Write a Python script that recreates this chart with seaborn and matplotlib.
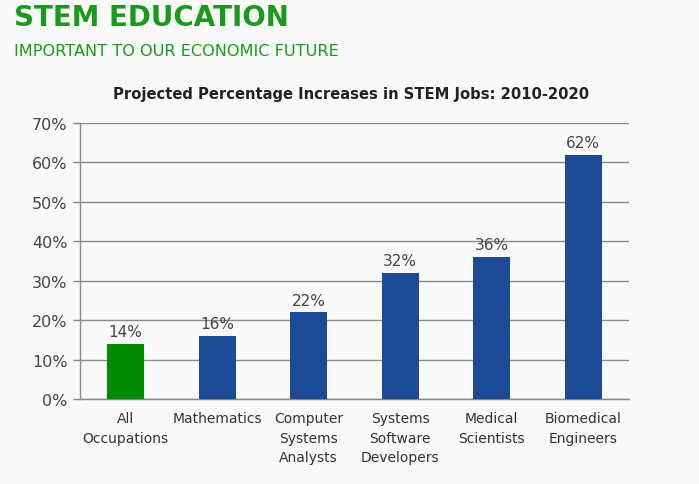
import matplotlib
matplotlib.use('Agg')
import matplotlib.pyplot as plt
import seaborn as sns
import pandas as pd

# chart values
categories = ["All\nOccupations", "Mathematics", "Computer\nSystems\nAnalysts",
              "Systems\nSoftware\nDevelopers", "Medical\nScientists", "Biomedical\nEngineers"]
increases = [14, 16, 22, 32, 36, 62]
bar_colors = ["#008a00", "#1c4a94", "#1c4a94", "#1c4a94", "#1c4a94", "#1c4a94"]
y_ticks = [0, 10, 20, 30, 40, 50, 60, 70]

df = pd.DataFrame({"category": categories, "pct": increases})

sns.set_style("white")
plt.rcParams['font.family'] = ['DejaVu Sans']

fig = plt.figure(figsize=(6.99, 4.85), dpi=100)
fig.patch.set_facecolor("#f9f9f9")
ax = fig.add_axes([80 / 699, 1 - 400 / 485, 549 / 699, 276 / 485])
ax.set_facecolor("#f9f9f9")

sns.barplot(data=df, x="category", y="pct", hue="category", palette=bar_colors,
            legend=False, width=0.4, saturation=1, linewidth=0, ax=ax, zorder=3)

ax.set_ylim(0, 70)
ax.set_xlim(-0.5, len(categories) - 0.5)
ax.set_yticks(y_ticks)
ax.set_yticklabels([f"{v}%" for v in y_ticks], fontsize=11.5, color="#444444")
ax.yaxis.grid(True, color="#8a8a8a", linewidth=1, zorder=0)
ax.set_axisbelow(True)
ax.set_xlabel("")
ax.set_ylabel("")

# category labels between boundary ticks
ax.set_xticks(range(len(categories)))
ax.set_xticklabels(categories, fontsize=10, color="#333333", linespacing=1.5)
ax.tick_params(axis="x", length=0, pad=9)
ax.set_xticks([i - 0.5 for i in range(len(categories) + 1)], minor=True)
ax.tick_params(axis="x", which="minor", length=5, color="#888888", width=1)
ax.tick_params(axis="y", length=5, color="#888888", width=1, left=True, pad=4)

for side in ["top", "right"]:
    ax.spines[side].set_visible(False)
for side in ["left", "bottom"]:
    ax.spines[side].set_color("#888888")
    ax.spines[side].set_linewidth(1)

for i, v in enumerate(increases):
    ax.text(i, v + 1.2, f"{v}%", ha="center", va="bottom", fontsize=11, color="#444444")

fig.text(14 / 699, 1 - 18 / 485, "STEM EDUCATION", fontsize=20, fontweight="bold",
         color="#1a9a1a", ha="left", va="center")
fig.text(14 / 699, 1 - 52 / 485, "IMPORTANT TO OUR ECONOMIC FUTURE", fontsize=11.6,
         color="#1a9a1a", ha="left", va="center")
fig.text(351 / 699, 1 - 95 / 485, "Projected Percentage Increases in STEM Jobs: 2010-2020",
         fontsize=10.6, fontweight="bold", color="#222222", ha="center", va="center")

fig.savefig("out.png", dpi=100, facecolor=fig.get_facecolor())
